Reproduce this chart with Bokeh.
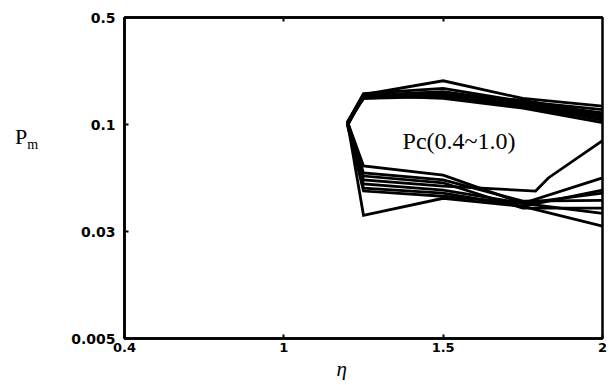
import numpy as np
from bokeh.plotting import figure
from bokeh.models import Label, FixedTicker, LinearAxis, Range1d, Title, Div
from bokeh.layouts import row
from bokeh.embed import file_html
from bokeh.resources import INLINE

# axis tick values (evenly spaced on the chart)
x_tick_values = [0.4, 1.0, 1.5, 2.0]
x_tick_labels = ["0.4", "1", "1.5", "2"]
y_tick_values = [0.005, 0.03, 0.1, 0.5]
y_tick_labels = ["0.005", "0.03", "0.1", "0.5"]

# eta positions of the loop (upper branch right->left, then lower branch left->right)
eta_std = [2.0, 1.75, 1.5, 1.25, 1.2, 1.25, 1.5, 1.75, 2.0]
eta_bend = [2.0, 1.75, 1.5, 1.25, 1.2, 1.25, 1.5, 1.79, 1.83, 2.0]

pm_1 = [0.132, 0.148, 0.193, 0.157, 0.103, 0.036, 0.0436, 0.0398, 0.0319]
pm_2 = [0.125, 0.141, 0.172, 0.159, 0.104, 0.0627, 0.0566, 0.0412, 0.0368]
pm_3 = [0.119, 0.139, 0.164, 0.155, 0.103, 0.058, 0.0536, 0.0422, 0.0426]
pm_4 = [0.114, 0.138, 0.159, 0.152, 0.101, 0.0536, 0.050, 0.0473, 0.0548, 0.0834]
pm_5 = [0.111, 0.134, 0.155, 0.150, 0.100, 0.0512, 0.0478, 0.0412, 0.0548]
pm_6 = [0.107, 0.132, 0.152, 0.148, 0.103, 0.0489, 0.0462, 0.0398, 0.0478]
pm_7 = [0.103, 0.128, 0.148, 0.155, 0.0988, 0.0473, 0.0446, 0.0412, 0.0462]
pm_8 = [0.116, 0.144, 0.157, 0.148, 0.104, 0.056, 0.0518, 0.039, 0.039]

curves = [(eta_std, pm_1), (eta_std, pm_2), (eta_std, pm_3), (eta_bend, pm_4),
          (eta_std, pm_5), (eta_std, pm_6), (eta_std, pm_7), (eta_std, pm_8)]

x_idx = list(range(len(x_tick_values)))
y_idx = list(range(len(y_tick_values)))


def xs_map(v):
    return list(np.interp(v, x_tick_values, x_idx))


def ys_map(v):
    return list(np.interp(np.log10(v), np.log10(y_tick_values), y_idx))


p = figure(width=548, height=380, output_backend="svg", toolbar_location=None,
           x_range=Range1d(0, 3), y_range=Range1d(0, 3),
           min_border_left=64, min_border_right=6, min_border_top=17, min_border_bottom=35)
p.grid.visible = False
p.outline_line_color = "black"
p.outline_line_width = 2.5

p.multi_line(xs=[xs_map(e) for e, _ in curves], ys=[ys_map(v) for _, v in curves],
             line_color="black", line_width=2.8, line_join="miter")

font = "DejaVu Sans"
for ax in (p.xaxis[0], p.yaxis[0]):
    ax.axis_line_width = 2.5
    ax.major_tick_in = 4
    ax.major_tick_out = 0
    ax.major_tick_line_width = 2
    ax.minor_tick_line_color = None
    ax.major_label_text_font = font
    ax.major_label_text_font_style = "bold"
    ax.major_label_text_font_size = "13px"
    ax.major_label_text_color = "black"

p.xaxis[0].ticker = FixedTicker(ticks=x_idx)
p.xaxis[0].major_label_overrides = {i: s for i, s in zip(x_idx, x_tick_labels)}
p.xaxis[0].major_label_standoff = 4
p.yaxis[0].ticker = FixedTicker(ticks=y_idx)
p.yaxis[0].major_label_overrides = {i: s for i, s in zip(y_idx, y_tick_labels)}
p.yaxis[0].major_label_standoff = 9
p.yaxis[0].major_label_text_font_size = "14px"

top = LinearAxis(ticker=FixedTicker(ticks=[1, 2]), major_label_text_font_size="0px",
                 major_label_text_color=None,
                 major_tick_in=4, major_tick_out=0, major_tick_line_width=2,
                 minor_tick_line_color=None, axis_line_width=2.5)
p.add_layout(top, "above")

serif = "Liberation Serif"
p.add_layout(Title(text="η", align="left", offset=212, text_font=serif,
                   text_font_style="italic", text_font_size="21px",
                   text_color="black", standoff=0), "below")
p.add_layout(Label(x=1.745, y=1.85, text="Pc(0.4~1.0)", text_font=serif, text_color="black",
                   text_font_size="24px", text_align="left", text_baseline="alphabetic"))

div = Div(text='<div style="margin-top:116px; margin-left:10px; font-family:\'Liberation Serif\';'
               ' font-size:22px; color:black;">P<sub style="font-size:14px;">m</sub></div>',
          width=50, height=380)

layout = row(div, p, spacing=0)
open("out.html", "w").write(file_html(layout, INLINE))
